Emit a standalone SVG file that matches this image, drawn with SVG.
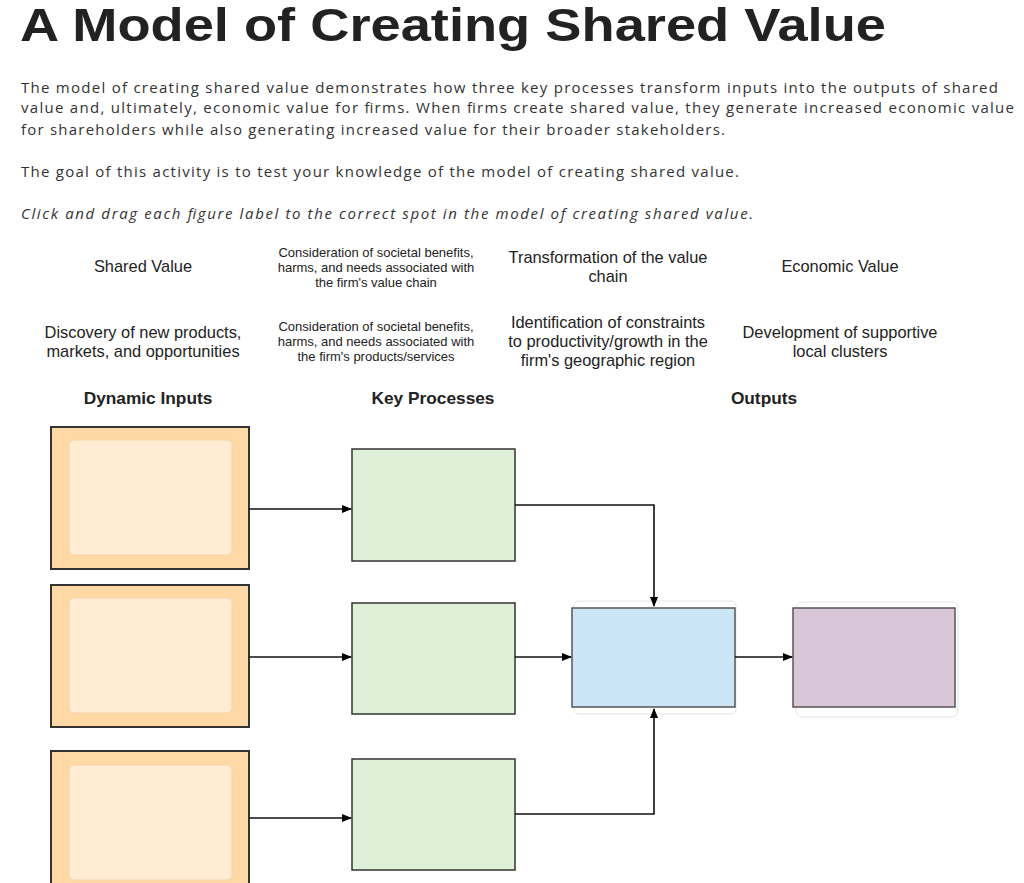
<svg xmlns="http://www.w3.org/2000/svg" width="1024" height="883" viewBox="0 0 1024 883">
<style>
.t{font-family:"Liberation Sans",Arial,sans-serif;fill:#222}
.p{font-family:"Open Sans","Liberation Sans",sans-serif;font-size:15px;fill:#333}
.l{font-family:"Liberation Sans",Arial,sans-serif;font-size:16.4px;fill:#222;text-anchor:middle}
.s{font-family:"Liberation Sans",Arial,sans-serif;font-size:13px;fill:#222;text-anchor:middle}
.h{font-family:"Liberation Sans",Arial,sans-serif;font-size:17.3px;font-weight:bold;fill:#222;text-anchor:middle}
.in{fill:#fed9a6;stroke:#333;stroke-width:2}
.ii{fill:#ffecd3;stroke:#f6d2a8;stroke-width:1}
.kp{fill:#dff0d8;stroke:#333;stroke-width:1.5}
.c{fill:none;stroke:#111;stroke-width:1.6;marker-end:url(#a)}
</style>
<defs><marker id="a" markerWidth="10" markerHeight="8" refX="9" refY="4" orient="auto" markerUnits="userSpaceOnUse"><path d="M0,0L10,4L0,8z" fill="#000"/></marker></defs>
<rect width="1024" height="883" fill="#fff"/>
<text x="20" y="41" class="t" font-size="46" font-weight="bold" textLength="866" lengthAdjust="spacingAndGlyphs">A Model of Creating Shared Value</text>
<text class="p" x="21" y="93" textLength="977">The model of creating shared value demonstrates how three key processes transform inputs into the outputs of shared</text>
<text class="p" x="21" y="113" textLength="993">value and, ultimately, economic value for firms. When firms create shared value, they generate increased economic value</text>
<text class="p" x="21" y="135" textLength="704">for shareholders while also generating increased value for their broader stakeholders.</text>
<text class="p" x="21" y="177" textLength="718">The goal of this activity is to test your knowledge of the model of creating shared value.</text>
<text class="p" x="21" y="219" font-style="italic" textLength="732">Click and drag each figure label to the correct spot in the model of creating shared value.</text>
<g id="labels">
<text class="l" x="143" y="272">Shared Value</text>
<text class="s" x="376" y="257">Consideration of societal benefits,</text>
<text class="s" x="376" y="272">harms, and needs associated with</text>
<text class="s" x="376" y="287">the firm's value chain</text>
<text class="l" x="608" y="263">Transformation of the value</text>
<text class="l" x="608" y="282">chain</text>
<text class="l" x="840" y="272">Economic Value</text>
<text class="l" x="143" y="338">Discovery of new products,</text>
<text class="l" x="143" y="357">markets, and opportunities</text>
<text class="s" x="376" y="331">Consideration of societal benefits,</text>
<text class="s" x="376" y="346">harms, and needs associated with</text>
<text class="s" x="376" y="361">the firm's products/services</text>
<text class="l" x="608" y="328">Identification of constraints</text>
<text class="l" x="608" y="347">to productivity/growth in the</text>
<text class="l" x="608" y="366">firm's geographic region</text>
<text class="l" x="840" y="338">Development of supportive</text>
<text class="l" x="840" y="357">local clusters</text>
<text class="h" x="148" y="404">Dynamic Inputs</text>
<text class="h" x="433" y="404">Key Processes</text>
<text class="h" x="764" y="404">Outputs</text>
</g>
<g id="input1"><rect class="in" x="51" y="427" width="198" height="142"/><rect class="ii" x="69" y="440" width="163" height="115" rx="5"/></g>
<g id="input2"><rect class="in" x="51" y="585" width="198" height="142"/><rect class="ii" x="69" y="598" width="163" height="115" rx="5"/></g>
<g id="input3"><rect class="in" x="51" y="751" width="198" height="142"/><rect class="ii" x="69" y="765" width="163" height="115" rx="5"/></g>
<g id="proc1"><rect class="kp" x="352" y="449" width="163" height="112"/></g>
<g id="proc2"><rect class="kp" x="352" y="603" width="163" height="111"/></g>
<g id="proc3"><rect class="kp" x="352" y="759" width="163" height="111"/></g>
<g id="shared"><rect x="574" y="601" width="162" height="113" rx="5" fill="none" stroke="#e4e4e4"/><rect x="572" y="608" width="163" height="99" fill="#cce5f6" stroke="#555" stroke-width="1.5"/></g>
<g id="economic"><rect x="796" y="602" width="162" height="115" rx="6" fill="none" stroke="#e4e4e4"/><rect x="793" y="608" width="162" height="99" fill="#d9c7d9" stroke="#555" stroke-width="1.5"/></g>
<g id="connectors">
<path class="c" d="M249,509H351"/>
<path class="c" d="M249,657H351"/>
<path class="c" d="M249,818H351"/>
<path class="c" d="M515,505H654V606"/>
<path class="c" d="M515,814H654V709"/>
<path class="c" d="M515,657H571"/>
<path class="c" d="M735,657H792"/>
</g>
</svg>
